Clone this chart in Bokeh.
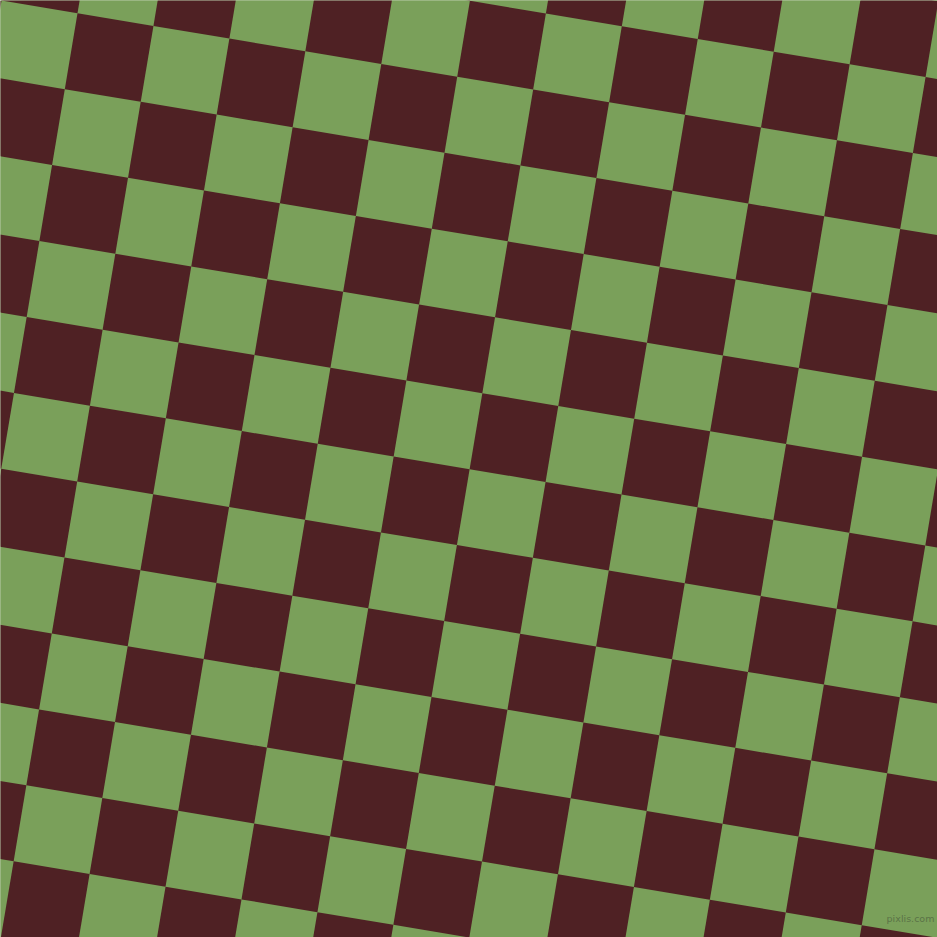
import numpy as np
from bokeh.plotting import figure
from bokeh.models import Range1d, ColumnDataSource
from bokeh.embed import file_html
from bokeh.resources import INLINE
from bokeh.core.properties import value

# Data: checkerboard cells (column index, row index) and their two colours
cols = list(range(-3, 16))
rows = list(range(-3, 16))
cell_colors = ["#4F2124", "#7AA05A"]  # even parity = dark, odd parity = green
watermark = "pixlis.com"

# Geometry of the tiled lattice (in reference pixel coordinates)
side = 77.0
angle_deg = 9.5
origin_x, origin_y = 77.0, 12.7

th = np.deg2rad(angle_deg)
ux, uy = side * np.cos(th), side * np.sin(th)
vx, vy = -side * np.sin(th), side * np.cos(th)

def corner(i, j):
    return origin_x + i * ux + j * vx, origin_y + i * uy + j * vy

layers = {0: {"xs": [], "ys": []}, 1: {"xs": [], "ys": []}}
for j in rows:
    for i in cols:
        pts = [corner(i, j), corner(i + 1, j), corner(i + 1, j + 1), corner(i, j + 1)]
        k = (i + j) % 2
        layers[k]["xs"].append([p[0] for p in pts])
        layers[k]["ys"].append([p[1] for p in pts])

p = figure(width=937, height=937, x_range=Range1d(0, 937), y_range=Range1d(937, 0),
           output_backend="svg", toolbar_location=None, min_border=0)
p.axis.visible = False
p.grid.visible = False
p.outline_line_color = None
p.background_fill_color = cell_colors[1]
p.border_fill_color = "white"

for k in (1, 0):
    src = ColumnDataSource(dict(xs=layers[k]["xs"], ys=layers[k]["ys"]))
    p.patches("xs", "ys", source=src, fill_color=cell_colors[k], line_color=None)

p.text(x=[910], y=[918], text=[watermark], text_font=value("DejaVu Sans"),
       text_font_size="9.5px", text_color="#5B7347", text_align="center",
       text_baseline="middle")

open("out.html", "w").write(file_html(p, INLINE))
